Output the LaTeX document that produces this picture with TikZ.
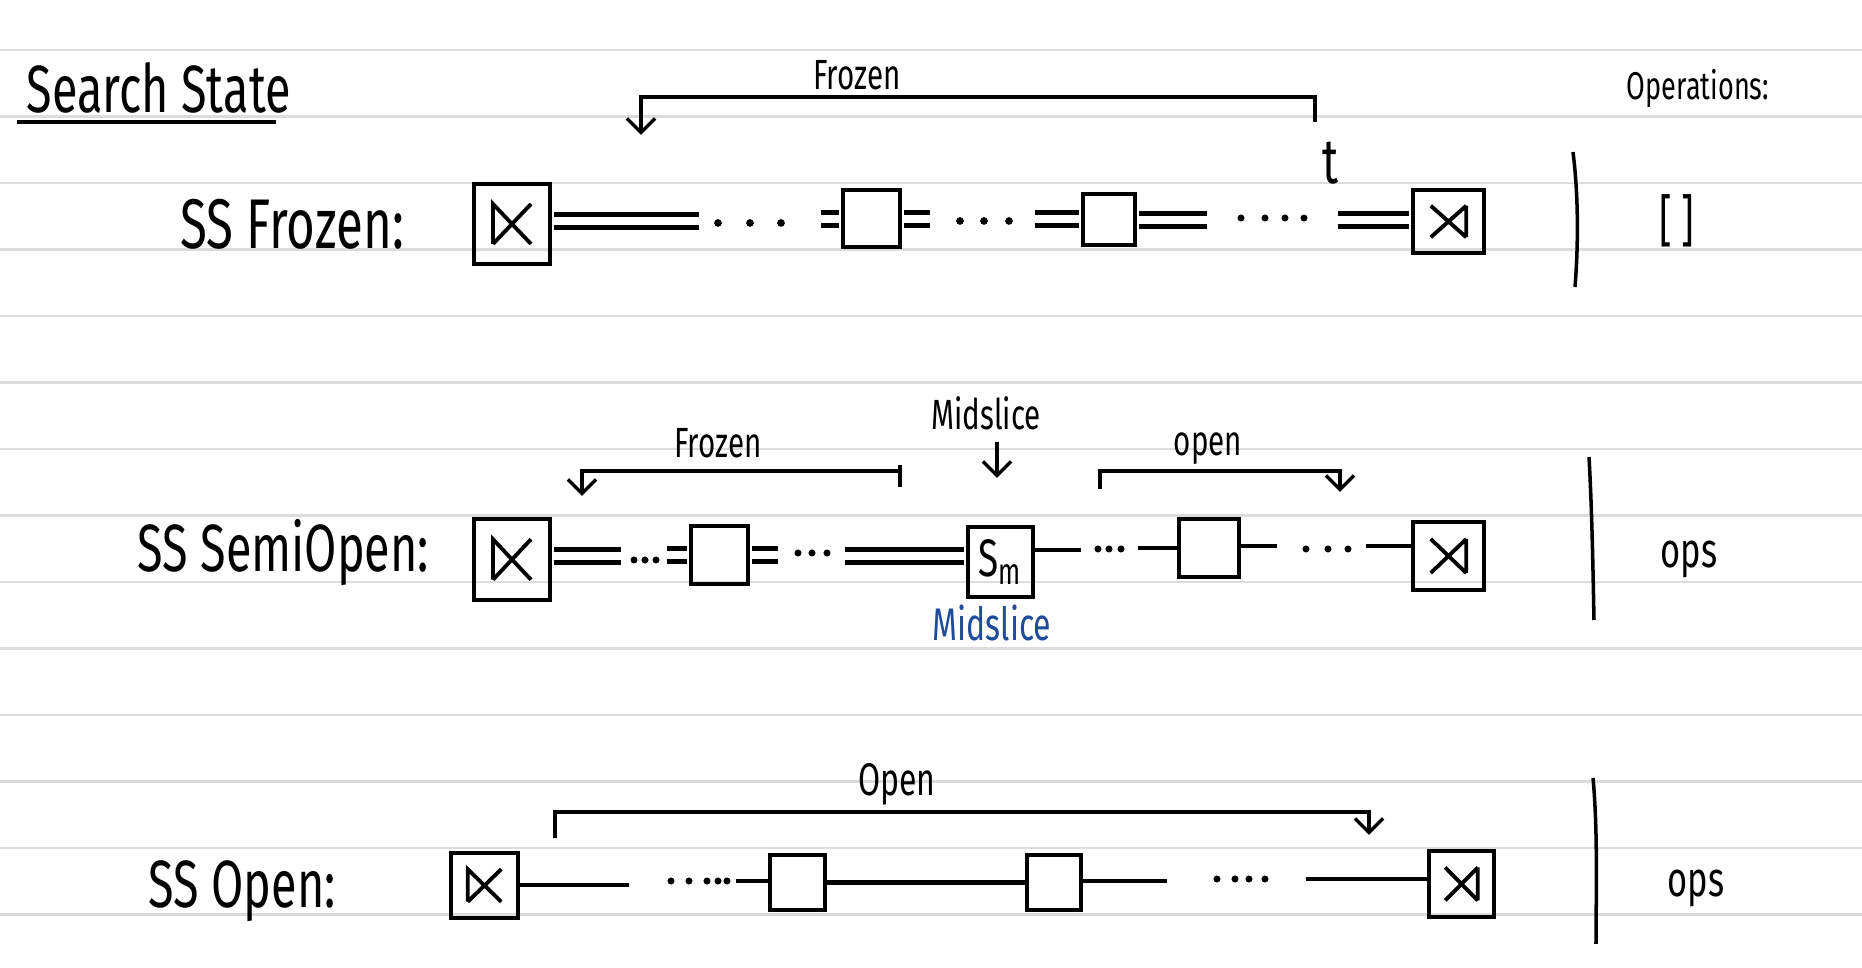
\documentclass[tikz,border=0pt]{standalone}
\usepackage{fontspec}
\setmainfont{Fira Sans}
\newfontfamily\hand[FakeStretch=0.7]{Fira Sans}
\usepackage{xcolor}
\definecolor{ssrule}{HTML}{DCDCDC}
\definecolor{ssblue}{HTML}{1E4B9A}
\usetikzlibrary{arrows.meta,positioning,calc}

\tikzset{
  slot/.style={draw,line width=1.2pt,inner sep=0pt},
  startmark/.style={path picture={
    \coordinate (pnw) at (path picture bounding box.north west);
    \coordinate (pse) at (path picture bounding box.south east);
    \coordinate (psw) at (path picture bounding box.south west);
    \coordinate (pne) at (path picture bounding box.north east);
    \draw[line width=1.1pt] ($(psw)!.25!(pne)$) -- ($(pnw)!.25!(pse)$) -- ($(pnw)!.75!(pse)$)
      ($(psw)!.25!(pne)$) -- ($(psw)!.75!(pne)$);}},
  endmark/.style={path picture={
    \coordinate (pnw) at (path picture bounding box.north west);
    \coordinate (pse) at (path picture bounding box.south east);
    \coordinate (psw) at (path picture bounding box.south west);
    \coordinate (pne) at (path picture bounding box.north east);
    \draw[line width=1.1pt] ($(psw)!.75!(pne)$) -- ($(pnw)!.75!(pse)$)
      ($(pnw)!.25!(pse)$) -- ($(pnw)!.75!(pse)$)
      ($(psw)!.25!(pne)$) -- ($(psw)!.75!(pne)$);}},
  link/.style={line width=1.2pt},
  dbl/.style={double,double distance=2.4pt,line width=1.25pt,shorten <=.6pt,shorten >=.6pt},
  bracket/.style={line width=1pt},
  downarrow/.style={-{Straight Barb[length=4pt,width=8pt]}},
  divider/.style={line width=1pt},
  lbl/.style={inner sep=0pt,font=\hand\fontsize{#1}{#1}\selectfont}
}

\begin{document}
\begin{tikzpicture}[x=0.01cm,y=-0.01cm]
\useasboundingbox (0,0) rectangle (1862,968);

% ruled paper
\foreach \k in {0,...,13}
  \draw[ssrule,line width=0.6pt] (0,{50+66.5*\k}) -- (1862,{50+66.5*\k});

% heading
\node[lbl=19,anchor=base west] (title) at (26,113) {Search State};
\draw[line width=1.3pt] (17,122) -- (276,122);
\node[lbl=11,anchor=base] (opshead) at (1698,100) {Operations:};

% --- SS Frozen ---
\node[lbl=12,anchor=base] (frz) at (857,90) {Frozen};
\coordinate (frzL) at (641,135);
\coordinate (frzR) at (1315,122);
\draw[bracket,downarrow] (frzR) |- ($(frzL)+(0,-38)$) -- (frzL);
\node[lbl=18,anchor=base] (tmark) at (1330,184) {t};

\node[lbl=20,anchor=base west] (lblF) at (180,249) {SS Frozen:};
\node[slot,minimum width=.76cm,minimum height=.80cm,startmark] (A1) at (512,224) {};
\node[slot,minimum width=.57cm,minimum height=.57cm] (B1) at (871.5,218.5) {};
\node[slot,minimum width=.52cm,minimum height=.51cm] (C1) at (1109,219.5) {};
\node[slot,minimum width=.71cm,minimum height=.63cm,endmark] (D1) at (1448.5,221.5) {};
\coordinate (a1r) at (701,221);
\coordinate (b1l) at (819,219);
\coordinate (b1r) at (932,219);
\coordinate (c1l) at (1033,219);
\coordinate (c1r) at (1209,220);
\coordinate (d1l) at (1336,220);
\draw[dbl] (A1.east |- a1r) -- (a1r);
\draw[dbl] (b1l) -- (b1l -| B1.west);
\draw[dbl] (B1.east |- b1r) -- (b1r);
\draw[dbl] (c1l) -- (c1l -| C1.west);
\draw[dbl] (C1.east |- c1r) -- (c1r);
\draw[dbl] (d1l) -- (d1l -| D1.west);
\foreach \x in {718,750,781} \fill (\x,223) circle[radius=1.1pt];
\foreach \x in {960,984,1009} \fill (\x,221) circle[radius=1.1pt];
\foreach \x in {1241,1265,1285,1304} \fill (\x,218) circle[radius=1pt];
\draw[divider] (1573,152) .. controls (1579,200) and (1578,250) .. (1575,287);
\node[lbl=16] (opsF) at (1677,221) {[\,]};

% --- SS SemiOpen ---
\node[lbl=12,anchor=base] (frz2) at (718,458) {Frozen};
\coordinate (frz2L) at (582,496);
\coordinate (frz2R) at (900,471);
\draw[bracket,downarrow] (frz2R) -| (frz2L);
\draw[bracket] ($(frz2R)+(0,-6)$) -- ++(0,22);
\node[lbl=12,anchor=base] (msTop) at (986,430) {Midslice};
\coordinate (msTip) at (997,478);
\draw[bracket,downarrow,shorten <=3pt] (msTop.south -| msTip) -- (msTip);
\node[lbl=12,anchor=base] (opn2) at (1208,456) {open};
\coordinate (opn2L) at (1100,489);
\coordinate (opn2R) at (1340,492);
\draw[bracket,downarrow] (opn2L) |- ($(opn2R)+(0,-21)$) -- (opn2R);

\node[lbl=19,anchor=base west] (lblSO) at (137,572) {SS SemiOpen:};
\node[slot,minimum width=.76cm,minimum height=.81cm,startmark] (A2) at (512,559.5) {};
\node[slot,minimum width=.57cm,minimum height=.58cm] (B2) at (719.5,555) {};
\node[slot,minimum width=.65cm,minimum height=.70cm,font=\hand\fontsize{15}{15}\selectfont] (S2) at (1000.5,562) {S\textsubscript{m}};
\node[slot,minimum width=.60cm,minimum height=.58cm] (C2) at (1209,548) {};
\node[slot,minimum width=.71cm,minimum height=.68cm,endmark] (D2) at (1448.5,556) {};
\node[lbl=13,text=ssblue,anchor=base] (msBot) at (992,641) {Midslice};
\coordinate (a2r) at (623,556);
\coordinate (b2l) at (665,555);
\coordinate (b2r) at (780,555);
\coordinate (s2l) at (843,556);
\coordinate (s2r) at (1081,550);
\coordinate (c2l) at (1138,548);
\coordinate (c2r) at (1277,546);
\coordinate (d2l) at (1366,546);
\draw[dbl] (A2.east |- a2r) -- (a2r);
\draw[dbl] (b2l) -- (b2l -| B2.west);
\draw[dbl] (B2.east |- b2r) -- (b2r);
\draw[dbl] (s2l) -- (s2l -| S2.west);
\draw[link] (S2.east |- s2r) -- (s2r);
\draw[link] (c2l) -- (c2l -| C2.west);
\draw[link] (C2.east |- c2r) -- (c2r);
\draw[link] (d2l) -- (d2l -| D2.west);
\foreach \x in {634,645,656} \fill (\x,560) circle[radius=1pt];
\foreach \x in {798,812,827} \fill (\x,553) circle[radius=1pt];
\foreach \x in {1098,1109,1121} \fill (\x,549) circle[radius=1pt];
\foreach \x in {1306,1328,1348} \fill (\x,549) circle[radius=1pt];
\draw[divider] (1589,457) .. controls (1592,510) and (1593,570) .. (1594,620);
\node[lbl=14,anchor=base] (opsSO) at (1689,568) {ops};

% --- SS Open ---
\node[lbl=13,anchor=base] (opn3) at (897,796) {Open};
\coordinate (opn3L) at (555,838);
\coordinate (opn3R) at (1369,835);
\draw[bracket,downarrow] (opn3L) |- ($(opn3R)+(0,-23)$) -- (opn3R);

\node[lbl=19,anchor=base west] (lblO) at (148,908) {SS Open:};
\node[slot,minimum width=.67cm,minimum height=.65cm,startmark] (A3) at (484.5,885.5) {};
\node[slot,minimum width=.55cm,minimum height=.55cm] (B3) at (797.5,882.5) {};
\node[slot,minimum width=.54cm,minimum height=.55cm] (C3) at (1054,882.5) {};
\node[slot,minimum width=.65cm,minimum height=.66cm,endmark] (D3) at (1461.5,884) {};
\coordinate (a3r) at (629,885);
\coordinate (b3l) at (736,881);
\coordinate (c3r) at (1167,881);
\coordinate (d3l) at (1306,879);
\draw[link] (A3.east |- a3r) -- (a3r);
\draw[link] (b3l) -- (b3l -| B3.west);
\draw[link] (B3) -- (C3);
\draw[link] (C3.east |- c3r) -- (c3r);
\draw[link] (d3l) -- (d3l -| D3.west);
\foreach \x in {671,689,707,718,727} \fill (\x,881) circle[radius=1pt];
\foreach \x in {1217,1235,1249,1265} \fill (\x,879) circle[radius=1pt];
\draw[divider] (1593,778) .. controls (1598,830) and (1596,900) .. (1596,944);
\node[lbl=14,anchor=base] (opsO) at (1696,897) {ops};
\end{tikzpicture}
\end{document}
